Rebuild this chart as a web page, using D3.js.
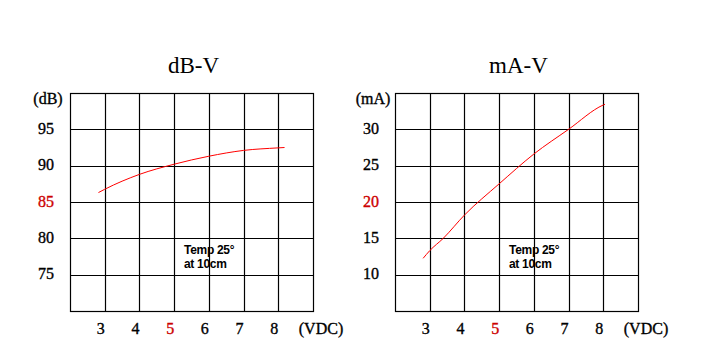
<!DOCTYPE html>
<html>
<head>
<meta charset="utf-8">
<script src="https://cdn.jsdelivr.net/npm/d3@7"></script>
<style>
  html, body { margin: 0; padding: 0; background: #fff; }
  svg { display: block; }
</style>
</head>
<body>
<svg id="chart" width="716" height="355"></svg>
<script>
// ---- data ----
const voltTicks = [3, 4, 5, 6, 7, 8];
const voltDomain = [2, 9];

const dbTitle = "dB-V";
const dbUnit = "(dB)";
const dbTicks = [75, 80, 85, 90, 95];
const dbDomain = [70, 100];
const dbVolts  = [2.82, 3, 4, 5, 6, 7, 8, 8.18];
const dbValues = [86.3, 86.75, 88.8, 90.2, 91.3, 92.1, 92.45, 92.5];

const maTitle = "mA-V";
const maUnit = "(mA)";
const maTicks = [10, 15, 20, 25, 30];
const maDomain = [5, 35];
const maVolts  = [2.81, 3, 3.39, 4, 5, 6, 7, 8, 8.05];
const maValues = [12.25, 13.3, 15, 18.2, 22.5, 26.6, 30.0, 33.35, 33.45];

const xUnit = "(VDC)";
const noteLines = ["Temp 25°", "at 10cm"];
const redVolt = 5;
const redDb = 85;
const redMa = 20;

// ---- drawing ----
const svg = d3.select("#chart");
const serif = "Liberation Serif, Times New Roman, Times, serif";
const sans = "Liberation Sans, Arial, Helvetica, sans-serif";
const labelRed = "#cc0000";

function serifText(sel, size) {
  return sel.attr("font-family", serif).attr("font-size", size)
    .attr("stroke-width", 0.35).attr("paint-order", "stroke");
}

function drawPanel(left, title, unit, yTicks, yDomain, xs, ys, redY) {
  const top = 93, w = 243, h = 218;
  const g = svg.append("g").attr("transform", `translate(${left},${top})`);
  const x = d3.scaleLinear().domain(voltDomain).range([0, w]);
  const y = d3.scaleLinear().domain(yDomain).range([h, 0]);

  // grid lines
  g.selectAll("line.v").data(voltTicks).join("line")
    .attr("x1", d => Math.round(x(d)) + 0.5).attr("x2", d => Math.round(x(d)) + 0.5)
    .attr("y1", 0).attr("y2", h)
    .attr("stroke", "#000").attr("stroke-width", 1.2);
  g.selectAll("line.h").data(yTicks).join("line")
    .attr("y1", d => Math.round(y(d)) + 0.5).attr("y2", d => Math.round(y(d)) + 0.5)
    .attr("x1", 0).attr("x2", w)
    .attr("stroke", "#000").attr("stroke-width", 1.2);
  g.append("rect").attr("x", 0.5).attr("y", 0.5).attr("width", w).attr("height", h)
    .attr("fill", "none").attr("stroke", "#000").attr("stroke-width", 1.2);

  // curve
  const pts = xs.map((v, i) => [v, ys[i]]);
  g.append("path").datum(pts)
    .attr("d", d3.line().x(d => x(d[0])).y(d => y(d[1])).curve(d3.curveMonotoneX))
    .attr("fill", "none").attr("stroke", "#ff0000").attr("stroke-width", 1);

  // y tick labels
  serifText(g.selectAll("text.yt").data(yTicks).join("text"), 16)
    .attr("x", -24).attr("y", d => y(d) - 1)
    .attr("text-anchor", "middle").attr("dominant-baseline", "central")
    .attr("fill", d => d === redY ? labelRed : "#000")
    .attr("stroke", d => d === redY ? labelRed : "#000")
    .text(d => d);
  serifText(g.append("text"), 16).attr("x", -22).attr("y", 5)
    .attr("text-anchor", "middle").attr("dominant-baseline", "central")
    .attr("fill", "#000").attr("stroke", "#000").text(unit);

  // x tick labels
  serifText(g.selectAll("text.xt").data(voltTicks).join("text"), 16)
    .attr("x", d => x(d) - 4).attr("y", h + 17)
    .attr("text-anchor", "middle").attr("dominant-baseline", "central")
    .attr("fill", d => d === redVolt ? labelRed : "#000")
    .attr("stroke", d => d === redVolt ? labelRed : "#000")
    .text(d => d);
  serifText(g.append("text"), 16).attr("x", 251).attr("y", h + 17)
    .attr("text-anchor", "middle").attr("dominant-baseline", "central")
    .attr("fill", "#000").attr("stroke", "#000").text(xUnit);

  // title
  g.append("text").attr("x", w / 2 + 2).attr("y", -28)
    .attr("text-anchor", "middle").attr("dominant-baseline", "central")
    .attr("font-family", serif).attr("font-size", 23).text(title);

  // note
  g.selectAll("text.note").data(noteLines).join("text")
    .attr("x", 114).attr("y", (d, i) => 161 + i * 13.5)
    .attr("font-family", sans).attr("font-size", 12).attr("font-weight", "bold")
    .attr("letter-spacing", -0.3)
    .text(d => d);
}

drawPanel(70, dbTitle, dbUnit, dbTicks, dbDomain, dbVolts, dbValues, redDb);
drawPanel(395, maTitle, maUnit, maTicks, maDomain, maVolts, maValues, redMa);
</script>
</body>
</html>
